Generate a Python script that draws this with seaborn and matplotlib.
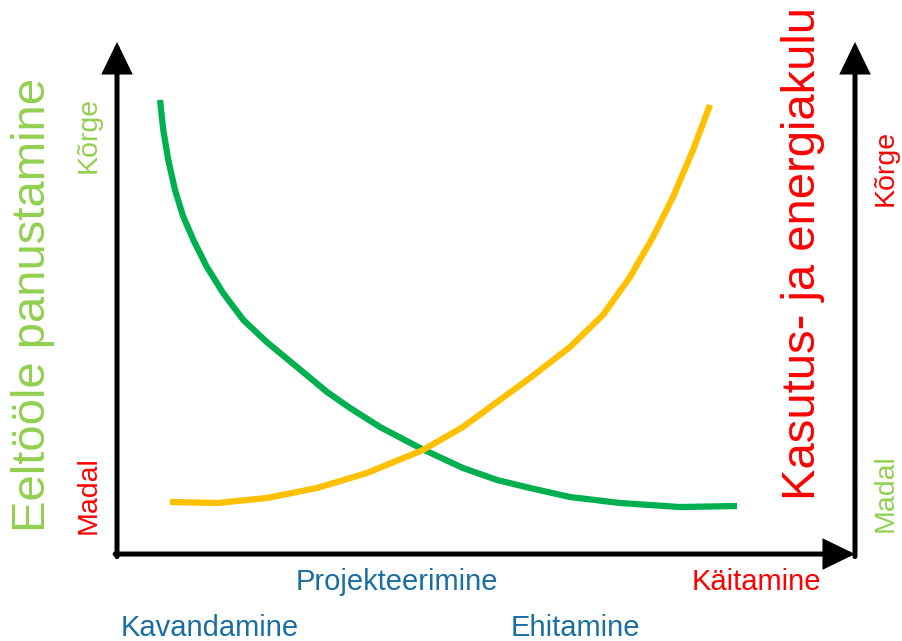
import matplotlib
matplotlib.use("Agg")
import matplotlib.pyplot as plt
import seaborn as sns
import pandas as pd

## Curve values (x = project time 0..100, y = level 0..100)
green_x = [5.83, 6.27, 6.95, 7.86, 8.98, 10.35, 12.16, 14.40, 17.12, 20.28, 24.39, 28.46,
           31.57, 35.64, 41.06, 46.88, 51.49, 55.96, 61.38, 68.16, 76.29, 84.01]
green_y = [88.63, 82.75, 76.86, 70.98, 65.75, 61.18, 55.94, 50.73, 45.49, 41.18, 36.27, 31.37,
           28.24, 24.51, 20.39, 16.47, 14.12, 12.55, 10.78, 9.61, 8.82, 9.02]
orange_x = [7.18, 13.55, 20.33, 27.10, 33.88, 41.46, 46.88, 51.49, 55.96, 61.38,
            65.85, 69.51, 72.63, 75.34, 78.05, 80.35]
orange_y = [9.80, 9.61, 10.59, 12.55, 15.49, 20.00, 24.51, 29.41, 34.12, 40.20,
            46.47, 53.92, 61.76, 69.61, 78.82, 87.65]

left_title = "Eeltööle panustamine"
right_title = "Kasutus- ja energiakulu"
high_label = "Kõrge"
low_label = "Madal"
phases_top = ["Projekteerimine", "Käitamine"]
phases_bottom = ["Kavandamine", "Ehitamine"]

GREEN = "#00B050"
ORANGE = "#FFC000"
LIGHT_GREEN = "#92D050"
RED = "#FF0000"
BLUE = "#1A6EA3"

sns.set_style("white")
plt.rcParams['font.family'] = ['Liberation Sans', 'DejaVu Sans']

fig = plt.figure(figsize=(9.03, 6.41), dpi=100)
ax = fig.add_axes([117/903, 89/641, 738/903, 510/641])

green = pd.DataFrame({"x": green_x, "y": green_y})
orange = pd.DataFrame({"x": orange_x, "y": orange_y})
sns.lineplot(data=green, x="x", y="y", sort=False, color=GREEN, lw=4.5, ax=ax)
sns.lineplot(data=orange, x="x", y="y", sort=False, color=ORANGE, lw=4.5, ax=ax)
for ln in ax.lines:
    ln.set_solid_capstyle("butt")
    ln.set_solid_joinstyle("round")

ax.set_xlim(0, 100)
ax.set_ylim(0, 100)
ax.set_xticks([])
ax.set_yticks([])
ax.set_xlabel("")
ax.set_ylabel("")
for s in ax.spines.values():
    s.set_visible(False)

# axis arrows
arr = dict(arrowstyle="-|>,head_length=0.7,head_width=0.34", lw=3.6, color="black",
           shrinkA=0, shrinkB=0, mutation_scale=25, joinstyle="miter")
ax.annotate("", xy=(0, 1.0), xytext=(0, -0.009), xycoords="axes fraction", arrowprops=arr)
ax.annotate("", xy=(1.0, -0.004), xytext=(-0.0025, -0.004), xycoords="axes fraction", arrowprops=arr)
ax.annotate("", xy=(1.0, 1.0), xytext=(1.0, -0.009), xycoords="axes fraction", arrowprops=arr)

def ftext(px, py, s, **kw):
    fig.text(px/903, 1 - py/641, s, ha="center", va="center", **kw)

# side titles
ftext(33, 305, left_title, color=LIGHT_GREEN, fontsize=34, rotation=90)
ftext(803, 253, right_title, color=RED, fontsize=34, rotation=90)

# level labels
ftext(89, 135, high_label, color=LIGHT_GREEN, fontsize=20.5, rotation=90)
ftext(89, 495, low_label, color=RED, fontsize=20.5, rotation=90)
ftext(886, 168, high_label, color=RED, fontsize=20.5, rotation=90)
ftext(886, 493, low_label, color=LIGHT_GREEN, fontsize=20.5, rotation=90)

# phase labels
ftext(397, 582, phases_top[0], color=BLUE, fontsize=21)
ftext(756, 582, phases_top[1], color=RED, fontsize=21)
ftext(210, 628, phases_bottom[0], color=BLUE, fontsize=21)
ftext(575, 628, phases_bottom[1], color=BLUE, fontsize=21)

plt.savefig("out.png", dpi=100)
